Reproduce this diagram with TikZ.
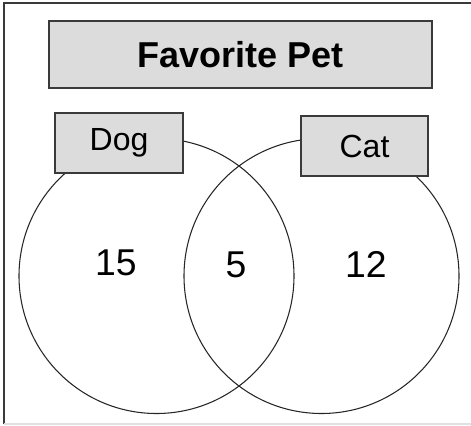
\documentclass[tikz,border=0pt]{standalone}
\usepackage{fontspec}
\setmainfont{Liberation Sans}
\usepackage{xcolor}
\usepackage{tikz}

\definecolor{boxgray}{HTML}{DCDCDC}
\definecolor{edgegray}{HTML}{3A3A3A}

\begin{document}
\begin{tikzpicture}%
                [x=0.75pt,
                y=-0.75pt,
                frame/.style={color=edgegray, line width=1.5pt},
                setcircle/.style={circle, draw=black!85, line width=0.8pt, minimum size=206.25pt, inner sep=0pt},
                titlebox/.style={draw=edgegray, fill=boxgray, line width=1.2pt, minimum width=287.25pt, minimum height=50.25pt, font=\fontsize{27}{30}\selectfont\bfseries},
                labelbox/.style={draw=edgegray, fill=boxgray, line width=1.2pt, minimum width=96pt, minimum height=45pt, font=\fontsize{24}{28}\selectfont},
                count/.style={font=\fontsize{28}{32}\selectfont}]

            \useasboundingbox (0,0) rectangle (471,425);
            %% Drawing the frame
            \draw[frame] (471,3) -- (4,3) -- (4,424);
            \draw[color=black!12, line width=1pt] (4,424) -- (471,424);
            %% Drawing the sets
            \node[setcircle] (dogset) at (156.5,276) {};
            \node[setcircle] (catset) at (321.5,276) {};
            %%
            %% Drawing the labels
            %%
            \node[titlebox] (title) at (240.5,54.5) {Favorite Pet};
            \node[labelbox] (dog) at (119,143) {Dog};
            \node[labelbox, minimum width=95.25pt] (cat) at (364.5,146) {Cat};
            %%
            %% Drawing the counts
            %%
            \node[count] (dogonly) at (116,263) {15};
            \node[count] (both) at (236,265) {5};
            \node[count] (catonly) at (366,264) {12};
            %%
            %%
\end{tikzpicture}
\end{document}
